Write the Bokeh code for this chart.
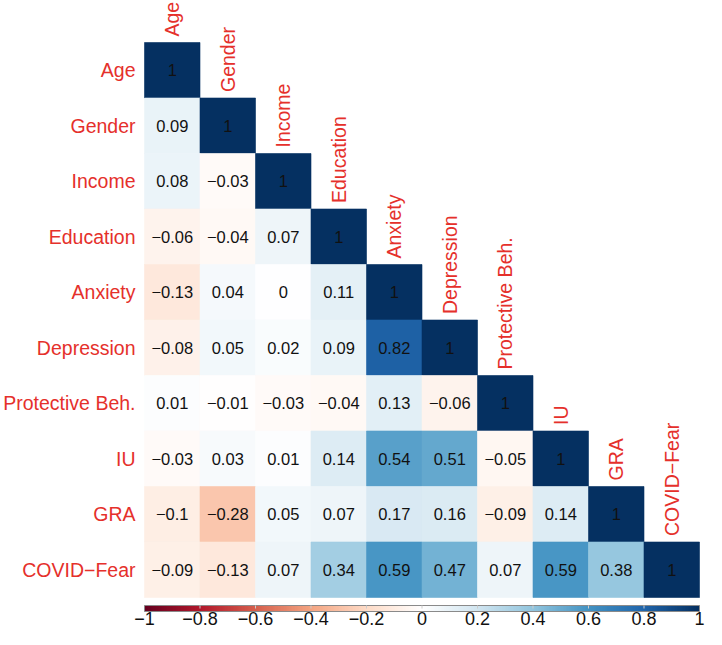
import numpy as np
from bokeh.plotting import figure
from bokeh.models import LinearColorMapper, ColumnDataSource, Range1d
from bokeh.transform import transform
from bokeh.core.properties import value
from bokeh.embed import file_html
from bokeh.resources import INLINE

# ---------------- data ----------------
variables = ["Age", "Gender", "Income", "Education", "Anxiety", "Depression",
             "Protective Beh.", "IU", "GRA", "COVID\u2212Fear"]

row_age = [1]
row_gender = [0.09, 1]
row_income = [0.08, -0.03, 1]
row_education = [-0.06, -0.04, 0.07, 1]
row_anxiety = [-0.13, 0.04, 0, 0.11, 1]
row_depression = [-0.08, 0.05, 0.02, 0.09, 0.82, 1]
row_protective = [0.01, -0.01, -0.03, -0.04, 0.13, -0.06, 1]
row_iu = [-0.03, 0.03, 0.01, 0.14, 0.54, 0.51, -0.05, 1]
row_gra = [-0.1, -0.28, 0.05, 0.07, 0.17, 0.16, -0.09, 0.14, 1]
row_covid = [-0.09, -0.13, 0.07, 0.34, 0.59, 0.47, 0.07, 0.59, 0.38, 1]
rows = [row_age, row_gender, row_income, row_education, row_anxiety,
        row_depression, row_protective, row_iu, row_gra, row_covid]

tick_values = [-1, -0.8, -0.6, -0.4, -0.2, 0, 0.2, 0.4, 0.6, 0.8, 1]
tick_labels = ["\u22121", "\u22120.8", "\u22120.6", "\u22120.4", "\u22120.2",
               "0", "0.2", "0.4", "0.6", "0.8", "1"]

# RdBu palette (corrplot COL2('RdBu'))
stops = ["#67001F", "#B2182B", "#D6604D", "#F4A582", "#FDDBC7", "#FFFFFF",
         "#D1E5F0", "#92C5DE", "#4393C3", "#2166AC", "#053061"]


def make_palette(stops, n=200):
    rgb = np.array([[int(s[i:i + 2], 16) for i in (1, 3, 5)] for s in stops], float)
    pos = np.linspace(0, 1, len(stops))
    t = np.linspace(0, 1, n)
    out = []
    for tt in t:
        c = [np.interp(tt, pos, rgb[:, k]) for k in range(3)]
        out.append("#%02x%02x%02x" % tuple(int(round(v)) for v in c))
    return out


palette = make_palette(stops)
mapper = LinearColorMapper(palette=palette, low=-1, high=1)

N = len(variables)
W, H = 706, 629
c = 55.5           # px per cell
L = W - 7 - N * c  # grid left in px
T = 42             # grid top in px

RED = "#E5302B"
FONT = "Liberation Sans"

p = figure(width=W, height=H, output_backend="svg", toolbar_location=None,
           x_axis_type=None, y_axis_type=None, min_border=0,
           x_range=Range1d(-L / c, (W - L) / c),
           y_range=Range1d(N - (H - T) / c, N + T / c))
p.outline_line_color = None
p.grid.visible = False
p.background_fill_color = "white"
p.border_fill_color = "white"


def fmt(v):
    s = f"{v:g}"
    return s.replace("-", "\u2212")


xs, ys, rs, labels = [], [], [], []
for i, row in enumerate(rows):
    for j, v in enumerate(row):
        xs.append(j + 0.5)
        ys.append(N - i - 0.5)
        rs.append(v)
        labels.append(fmt(v))
src = ColumnDataSource(dict(x=xs, y=ys, r=rs, lab=labels))

p.rect(x="x", y="y", width=1, height=1, source=src,
       fill_color=transform("r", mapper), line_color=transform("r", mapper),
       line_width=0.6)
p.text(x="x", y="y", text="lab", source=src, text_align="center",
       text_baseline="middle", text_font=value(FONT), text_font_size="16.5px",
       text_color="#111111")

# left labels
p.text(x=[-9 / c] * N, y=[N - i - 0.5 for i in range(N)], text=variables,
       text_align="right", text_baseline="middle", text_font=value(FONT),
       text_font_size="19.5px", text_color=RED)

# top (rotated) labels above diagonal cells
p.text(x=[j + 0.5 for j in range(N)], y=[N - j + 6 / c for j in range(N)],
       text=variables, angle=np.pi / 2, text_align="left",
       text_baseline="middle", text_font=value(FONT), text_font_size="19.5px",
       text_color=RED)

# colour bar
bar_top = -8 / c
bar_h = 6 / c
grad = np.linspace(-1, 1, 400).reshape(1, -1)
p.image(image=[grad], x=0, y=bar_top - bar_h, dw=N, dh=bar_h, color_mapper=mapper)
p.quad(left=[0], right=[N], bottom=[bar_top - bar_h], top=[bar_top],
       fill_color=None, line_color="#8a8a8a", line_width=1)
tick_x = [(v + 1) / 2 * N for v in tick_values]
p.segment(x0=tick_x[1:-1], x1=tick_x[1:-1], y0=[bar_top - bar_h * 0.5] * 9,
          y1=[bar_top] * 9, line_color="#cccccc", line_width=1)
p.text(x=tick_x, y=[bar_top - bar_h - 0.5 / c] * len(tick_x), text=tick_labels,
       text_align="center", text_baseline="top", text_font=value(FONT),
       text_font_size="18px", text_color="#111111")

open("out.html", "w").write(file_html(p, INLINE))
